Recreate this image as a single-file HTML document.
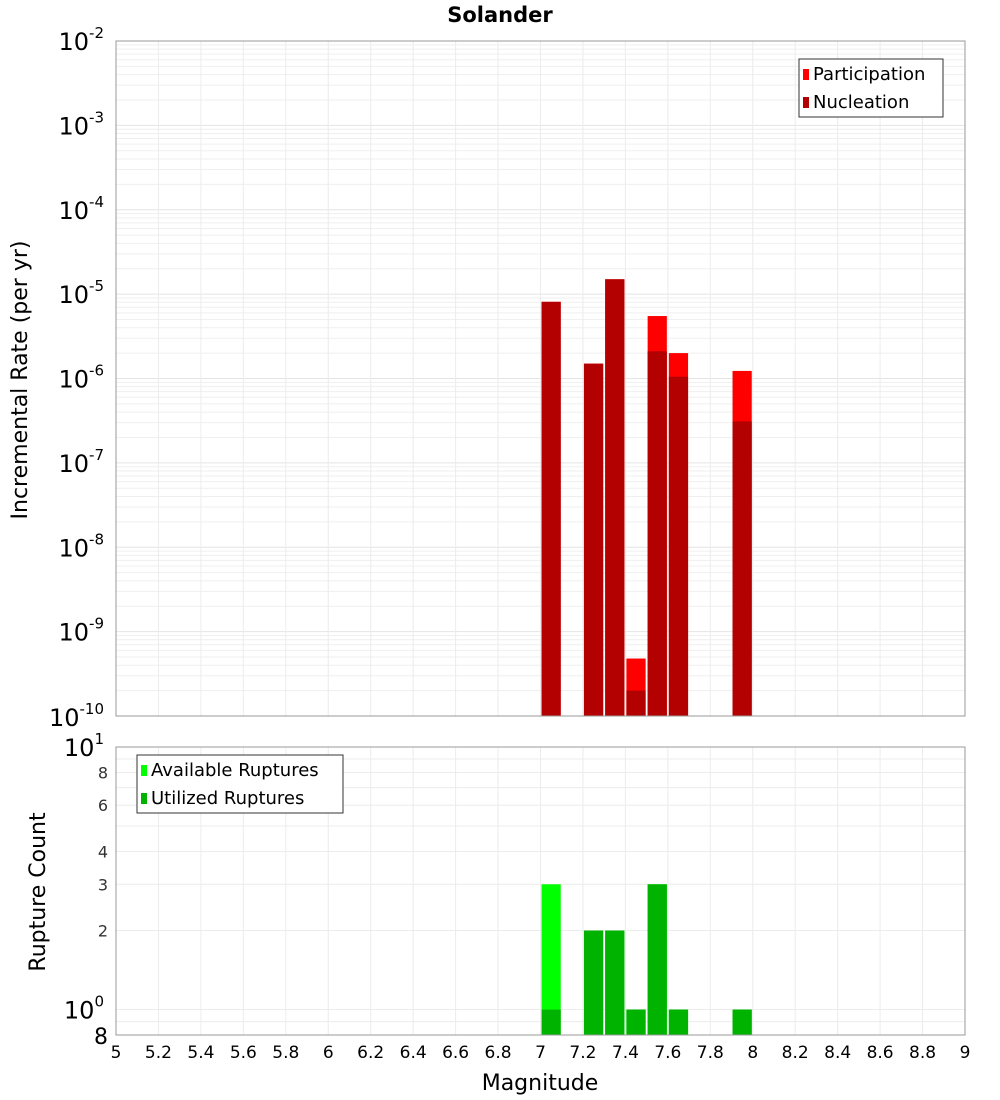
<!DOCTYPE html>
<html><head><meta charset="utf-8"><style>body{margin:0;background:#fff}svg{display:block;font-family:"DejaVu Sans","Liberation Sans",sans-serif}</style></head>
<body>
<svg id="c" width="1000" height="1100" xmlns="http://www.w3.org/2000/svg"></svg>
<script>
const mags=[7.05,7.25,7.35,7.45,7.55,7.65,7.95];
const participation=[8.1e-6,1.5e-6,1.5e-5,4.8e-10,5.5e-6,2.0e-6,1.23e-6];
const nucleation=[8.1e-6,1.5e-6,1.5e-5,2.0e-10,2.1e-6,1.05e-6,3.1e-7];
const available=[3,2,2,1,3,1,1];
const utilized=[1,2,2,1,3,1,1];
const xTicks=[5,5.2,5.4,5.6,5.8,6,6.2,6.4,6.6,6.8,7,7.2,7.4,7.6,7.8,8,8.2,8.4,8.6,8.8,9];
const topExps=[-10,-9,-8,-7,-6,-5,-4,-3,-2];
const botTicks=[2,3,4,6,8];

const svg=document.getElementById('c');const NS='http://www.w3.org/2000/svg';
function el(t,a,p){const e=document.createElementNS(NS,t);for(const k in a)e.setAttribute(k,a[k]);(p||svg).appendChild(e);return e;}
const X0=116,X1=965;const x=m=>X0+(m-5)/4*(X1-X0);
const T0=41,T1=716;const yT=v=>T1-(Math.log10(v)+10)/8*(T1-T0);
const B0=747,B1=1035;const lb0=Math.log10(0.8);const yB=v=>B1-(Math.log10(v)-lb0)/(1-lb0)*(B1-B0);

const gT=el('g',{});
for(let e=-10;e<-2;e++)for(let k=1;k<10;k++){const yy=yT(k*Math.pow(10,e));el('line',{x1:X0,x2:X1,y1:yy,y2:yy,stroke:k==1?'#e4e4e4':'#efefef','stroke-width':1},gT);}
xTicks.forEach(t=>{el('line',{x1:x(t),x2:x(t),y1:T0,y2:T1,stroke:'#ececec'},gT);el('line',{x1:x(t),x2:x(t),y1:B0,y2:B1,stroke:'#ececec'},gT);});
[0.8,0.9,1,2,3,4,5,6,7,8,9].forEach(v=>{const yy=yB(v);el('line',{x1:X0,x2:X1,y1:yy,y2:yy,stroke:'#ececec'},gT);});

const bw=(X1-X0)/40;
mags.forEach((m,i)=>{
 let r=el('rect',{x:x(m)-bw/2+1,width:bw-2,y:yT(participation[i]),height:T1-yT(participation[i]),fill:'#ff0000'});
 
 r=el('rect',{x:x(m)-bw/2+1,width:bw-2,y:yT(nucleation[i]),height:T1-yT(nucleation[i]),fill:'#b30000'});
 
 r=el('rect',{x:x(m)-bw/2+1,width:bw-2,y:yB(available[i]),height:B1-yB(available[i]),fill:'#00ff00'});
 
 r=el('rect',{x:x(m)-bw/2+1,width:bw-2,y:yB(utilized[i]),height:B1-yB(utilized[i]),fill:'#00b300'});
 
});
el('rect',{x:X0,y:T0,width:X1-X0,height:T1-T0,fill:'none',stroke:'#999'});
el('rect',{x:X0,y:B0,width:X1-X0,height:B1-B0,fill:'none',stroke:'#999'});

topExps.forEach(e=>{const t=el('text',{x:X0-12,y:yT(Math.pow(10,e))+9,'text-anchor':'end','font-size':24});
 t.innerHTML='10<tspan dy="-12" font-size="15">'+e+'</tspan>';
 if(e==-10){t.setAttribute('y',yT(1e-10)+10);}});
[[10,'1'],[1,'0']].forEach(([v,s])=>{const t=el('text',{x:X0-12,y:yB(v)+9,'text-anchor':'end','font-size':24});t.innerHTML='10<tspan dy="-12" font-size="15">'+s+'</tspan>';});
botTicks.forEach(v=>{const t=el('text',{x:X0-8,y:yB(v)+6,'text-anchor':'end','font-size':16,fill:'#333'});t.textContent=v;});
let t8=el('text',{x:X0-8,y:B1+9,'text-anchor':'end','font-size':22});t8.textContent='8';
xTicks.forEach(v=>{const t=el('text',{x:x(v),y:1058,'text-anchor':'middle','font-size':17});t.textContent=String(v);});

let tt=el('text',{x:500,y:22,'text-anchor':'middle','font-size':21,'font-weight':'bold'});tt.textContent='Solander';
tt=el('text',{x:540,y:1090,'text-anchor':'middle','font-size':22});tt.textContent='Magnitude';
tt=el('text',{x:0,y:0,'text-anchor':'middle','font-size':22,transform:'translate(27,380) rotate(-90)'});tt.textContent='Incremental Rate (per yr)';
tt=el('text',{x:0,y:0,'text-anchor':'middle','font-size':22,transform:'translate(45,892) rotate(-90)'});tt.textContent='Rupture Count';

function legend(x0,y0,w,items,name){const g=el('g',{});
 el('rect',{x:x0,y:y0,width:w,height:58,fill:'#fff',stroke:'#333','stroke-width':1},g);
 items.forEach(([c,s],i)=>{el('rect',{x:x0+4,y:y0+10+i*28,width:6,height:11,fill:c},g);const t=el('text',{x:x0+14,y:y0+21+i*28,'font-size':18},g);t.textContent=s;});}
legend(799,59,144,[['#ff0000','Participation'],['#b30000','Nucleation']],'rate-legend');
legend(137,755,206,[['#00ff00','Available Ruptures'],['#00b300','Utilized Ruptures']],'count-legend');
</script>
</body></html>
